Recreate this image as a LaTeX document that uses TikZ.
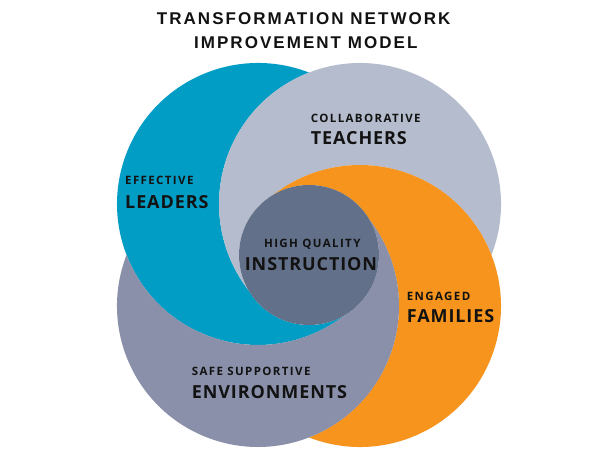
\documentclass[tikz,border=0pt]{standalone}
\usepackage{fontspec}
\setmainfont{Open Sans}
\newfontfamily\titlefont{Liberation Sans}[LetterSpace=12]
\newfontfamily\smallfont{Open Sans}[LetterSpace=12]
\newfontfamily\bigfont{Open Sans}[LetterSpace=5]
\definecolor{cblue}{HTML}{029DC5}
\definecolor{cgrey}{HTML}{B4BCCD}
\definecolor{corange}{HTML}{F7941E}
\definecolor{cpurple}{HTML}{8A90A9}
\definecolor{ccore}{HTML}{637089}
\definecolor{ctext}{HTML}{121212}
\tikzset{
  small/.style={anchor=base west,inner sep=0pt,text=ctext,font=\smallfont\bfseries\fontsize{11.5}{13}\selectfont},
  big/.style={anchor=base west,inner sep=0pt,text=ctext,font=\bigfont\bfseries\fontsize{18}{20}\selectfont},
  ttl/.style={anchor=base,inner sep=0pt,text=ctext,font=\titlefont\bfseries\fontsize{17}{19}\selectfont},
}
\begin{document}
\begin{tikzpicture}[x=1pt,y=1pt]
\useasboundingbox (0,0) rectangle (606,455);
\fill[white] (0,0) rectangle (606,455);
\begin{scope}[shift={(309,200)}]
\fill[cblue] (0,182.45) arc[start angle=68.80,end angle=307.89,radius=141]
  arc[start angle=300.56,end angle=210.56,radius=70]
  arc[start angle=217.89,end angle=111.20,radius=141] -- cycle;
\fill[cgrey] (182.45,0) arc[start angle=-21.20,end angle=217.89,radius=141]
  arc[start angle=210.56,end angle=120.56,radius=70]
  arc[start angle=127.89,end angle=21.20,radius=141] -- cycle;
\fill[corange] (0,-182.45) arc[start angle=-111.20,end angle=127.89,radius=141]
  arc[start angle=120.56,end angle=30.56,radius=70]
  arc[start angle=37.89,end angle=-68.80,radius=141] -- cycle;
\fill[cpurple] (-182.45,0) arc[start angle=158.80,end angle=397.89,radius=141]
  arc[start angle=390.56,end angle=300.56,radius=70]
  arc[start angle=307.89,end angle=201.20,radius=141] -- cycle;
\node[circle,fill=ccore,minimum size=140pt,inner sep=0pt] (core) at (0,0) {};
\end{scope}
\node[ttl] (t1) at (303.7,430) {TRANSFORMATION NETWORK};
\node[ttl] (t2) at (305.8,406) {IMPROVEMENT MODEL};
\node[small] (l1) at (125,270) {EFFECTIVE};
\node[big] (l2) at (125,246.7) {LEADERS};
\node[small] (c1) at (310.7,332) {COLLABORATIVE};
\node[big] (c2) at (310.7,310) {TEACHERS};
\node[small,anchor=base] (h1) at (312.3,207.7) {HIGH QUALITY};
\node[big,anchor=base] (h2) at (311,184.3) {INSTRUCTION};
\node[small] (e1) at (406.7,154) {ENGAGED};
\node[big] (e2) at (406.7,132.3) {FAMILIES};
\node[small] (s1) at (191.7,79.3) {SAFE SUPPORTIVE};
\node[big] (s2) at (191.7,56.7) {ENVIRONMENTS};
\end{tikzpicture}
\end{document}
